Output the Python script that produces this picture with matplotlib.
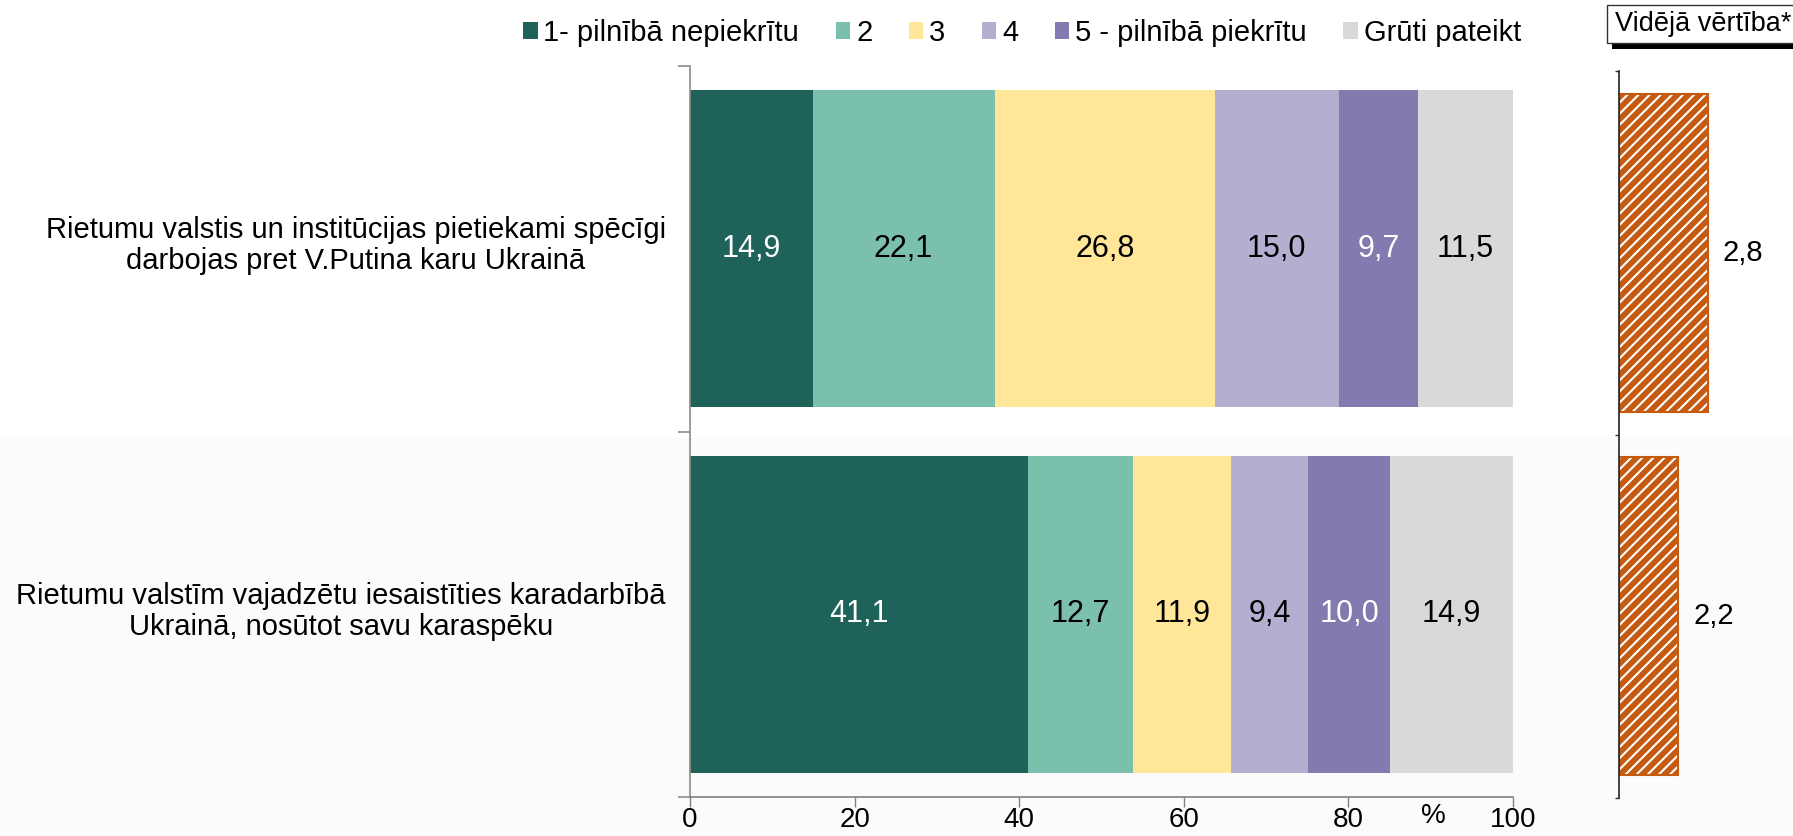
import matplotlib
matplotlib.use('Agg')
import matplotlib.pyplot as plt
import matplotlib.transforms as mtransforms
from matplotlib.patches import Patch, Rectangle
import numpy as np

plt.rcParams['font.family'] = ['Liberation Sans', 'DejaVu Sans']
plt.rcParams['hatch.linewidth'] = 1.5

# ---- data ----
categories = ["Rietumu valstis un institūcijas pietiekami spēcīgi\ndarbojas pret V.Putina karu Ukrainā",
              "Rietumu valstīm vajadzētu iesaistīties karadarbībā\nUkrainā, nosūtot savu karaspēku"]
series_names = ["1- pilnībā nepiekrītu", "2", "3", "4", "5 - pilnībā piekrītu", "Grūti pateikt"]
s1 = [14.9, 41.1]
s2 = [22.1, 12.7]
s3 = [26.8, 11.9]
s4 = [15.0, 9.4]
s5 = [9.7, 10.0]
s6 = [11.5, 14.9]
means = [2.8, 2.2]
mean_title = "Vidējā vērtība*"
x_ticks = [0, 20, 40, 60, 80, 100]

colors = ['#1E6259', '#7BBFAD', '#FFE699', '#B3AFD0', '#837BAF', '#D9D9D9']
label_colors = ['white', 'black', 'black', 'black', 'white', 'black']
orange = '#C55A11'

W, H = 1793, 836
fig = plt.figure(figsize=(W / 100, H / 100), dpi=100, facecolor='white')

# subtle lower background band
fig.add_artist(Rectangle((0, 0), 1, (H - 438) / H, transform=fig.transFigure,
                         facecolor='#FBFBFB', edgecolor='none', zorder=-10))

def fx(px):
    return px / W

def fy(py):
    return 1 - py / H

# ---- main axes ----
ax = fig.add_axes([fx(690), fy(797), fx(1513) - fx(690), fy(66) - fy(797)])
ax.set_facecolor('none')
series = [s1, s2, s3, s4, s5, s6]
y = np.arange(len(categories))
left = np.zeros(len(categories))
for vals, c, lc in zip(series, colors, label_colors):
    vals = np.array(vals)
    ax.barh(y, vals, left=left, height=0.867, color=c, edgecolor='none')
    for yi, v, l in zip(y, vals, left):
        ax.text(l + v / 2, yi, f"{v:.1f}".replace('.', ','), ha='center', va='center',
                color=lc, fontsize=22)
    left += vals

ax.set_xlim(0, 100)
ax.set_ylim(1.5, -0.5)
ax.set_xticks(x_ticks)
ax.set_xticklabels([str(t) for t in x_ticks], fontsize=20)
ax.tick_params(axis='x', length=7, width=1, color='#808080', pad=0)
ax.set_yticks([-0.5, 0.5, 1.5])
ax.set_yticklabels([])
ax.tick_params(axis='y', which='major', length=9, width=1.2, color='#8C8C8C')

lab_trans = mtransforms.blended_transform_factory(ax.transAxes, ax.transData) + \
    mtransforms.ScaledTranslation(-24 / 100, 3 / 100, fig.dpi_scale_trans)
for yi, cat in zip(y, categories):
    ax.text(0, yi, cat, transform=lab_trans, ha='right', va='center',
            multialignment='center', fontsize=21, linespacing=1.12)

for s in ['top', 'right']:
    ax.spines[s].set_visible(False)
ax.spines['left'].set_color('#8C8C8C')
ax.spines['left'].set_linewidth(1.2)
ax.spines['bottom'].set_color('#808080')
ax.spines['bottom'].set_linewidth(1.2)
ax.annotate('%', xy=(90.3, 0), xycoords=('data', 'axes fraction'),
            xytext=(0, -6), textcoords='offset pixels', ha='center', va='top', fontsize=20)

# ---- legend ----
handles = [Patch(facecolor=c, edgecolor='none') for c in colors]
fig.legend(handles, series_names, loc='center', bbox_to_anchor=(fx(1022), fy(33)),
           ncol=6, frameon=False, fontsize=21, handlelength=0.5, handleheight=0.5,
           handletextpad=0.2, columnspacing=1.25, borderaxespad=0)

# ---- right axes (means) ----
ax2 = fig.add_axes([fx(1619), fy(798), 1 - fx(1619), fy(71) - fy(798)])
ax2.set_facecolor('none')
xmin = 1.0
xmax = xmin + (W - 1619) / 49.3
mvals = np.array(means)
ax2.barh(y, mvals - xmin, left=xmin, height=0.875, color=orange, edgecolor='white',
         hatch='///', linewidth=0)
ax2.barh(y, mvals - xmin, left=xmin, height=0.875, fill=False, edgecolor=orange, linewidth=1.5)
for yi, m in zip(y, mvals):
    ax2.annotate(f"{m:.1f}".replace('.', ','), xy=(m, yi), xytext=(15, 0),
                 textcoords='offset pixels', ha='left', va='center', fontsize=21)
ax2.set_xlim(xmin, xmax)
ax2.set_ylim(1.5, -0.5)
ax2.set_xticks([])
ax2.set_yticks([-0.5, 0.5, 1.5])
ax2.set_yticklabels([])
ax2.tick_params(axis='y', length=3, width=1, color='#333333')
for s in ['top', 'right', 'bottom']:
    ax2.spines[s].set_visible(False)
ax2.spines['left'].set_color('#222222')
ax2.spines['left'].set_linewidth(1.2)

# ---- mean title box with shadow ----
fig.add_artist(Rectangle((fx(1612), fy(49)), fx(1800) - fx(1612), fy(10) - fy(49),
                         transform=fig.transFigure, facecolor='black', edgecolor='none', zorder=5))
fig.add_artist(Rectangle((fx(1607), fy(43)), fx(1800) - fx(1607), fy(5) - fy(43),
                         transform=fig.transFigure, facecolor='white', edgecolor='#333333',
                         linewidth=1, zorder=6))
fig.text(fx(1615), fy(24), mean_title, ha='left', va='center', fontsize=19.5, zorder=7)

fig.savefig('out.png', dpi=100, facecolor=fig.get_facecolor())
